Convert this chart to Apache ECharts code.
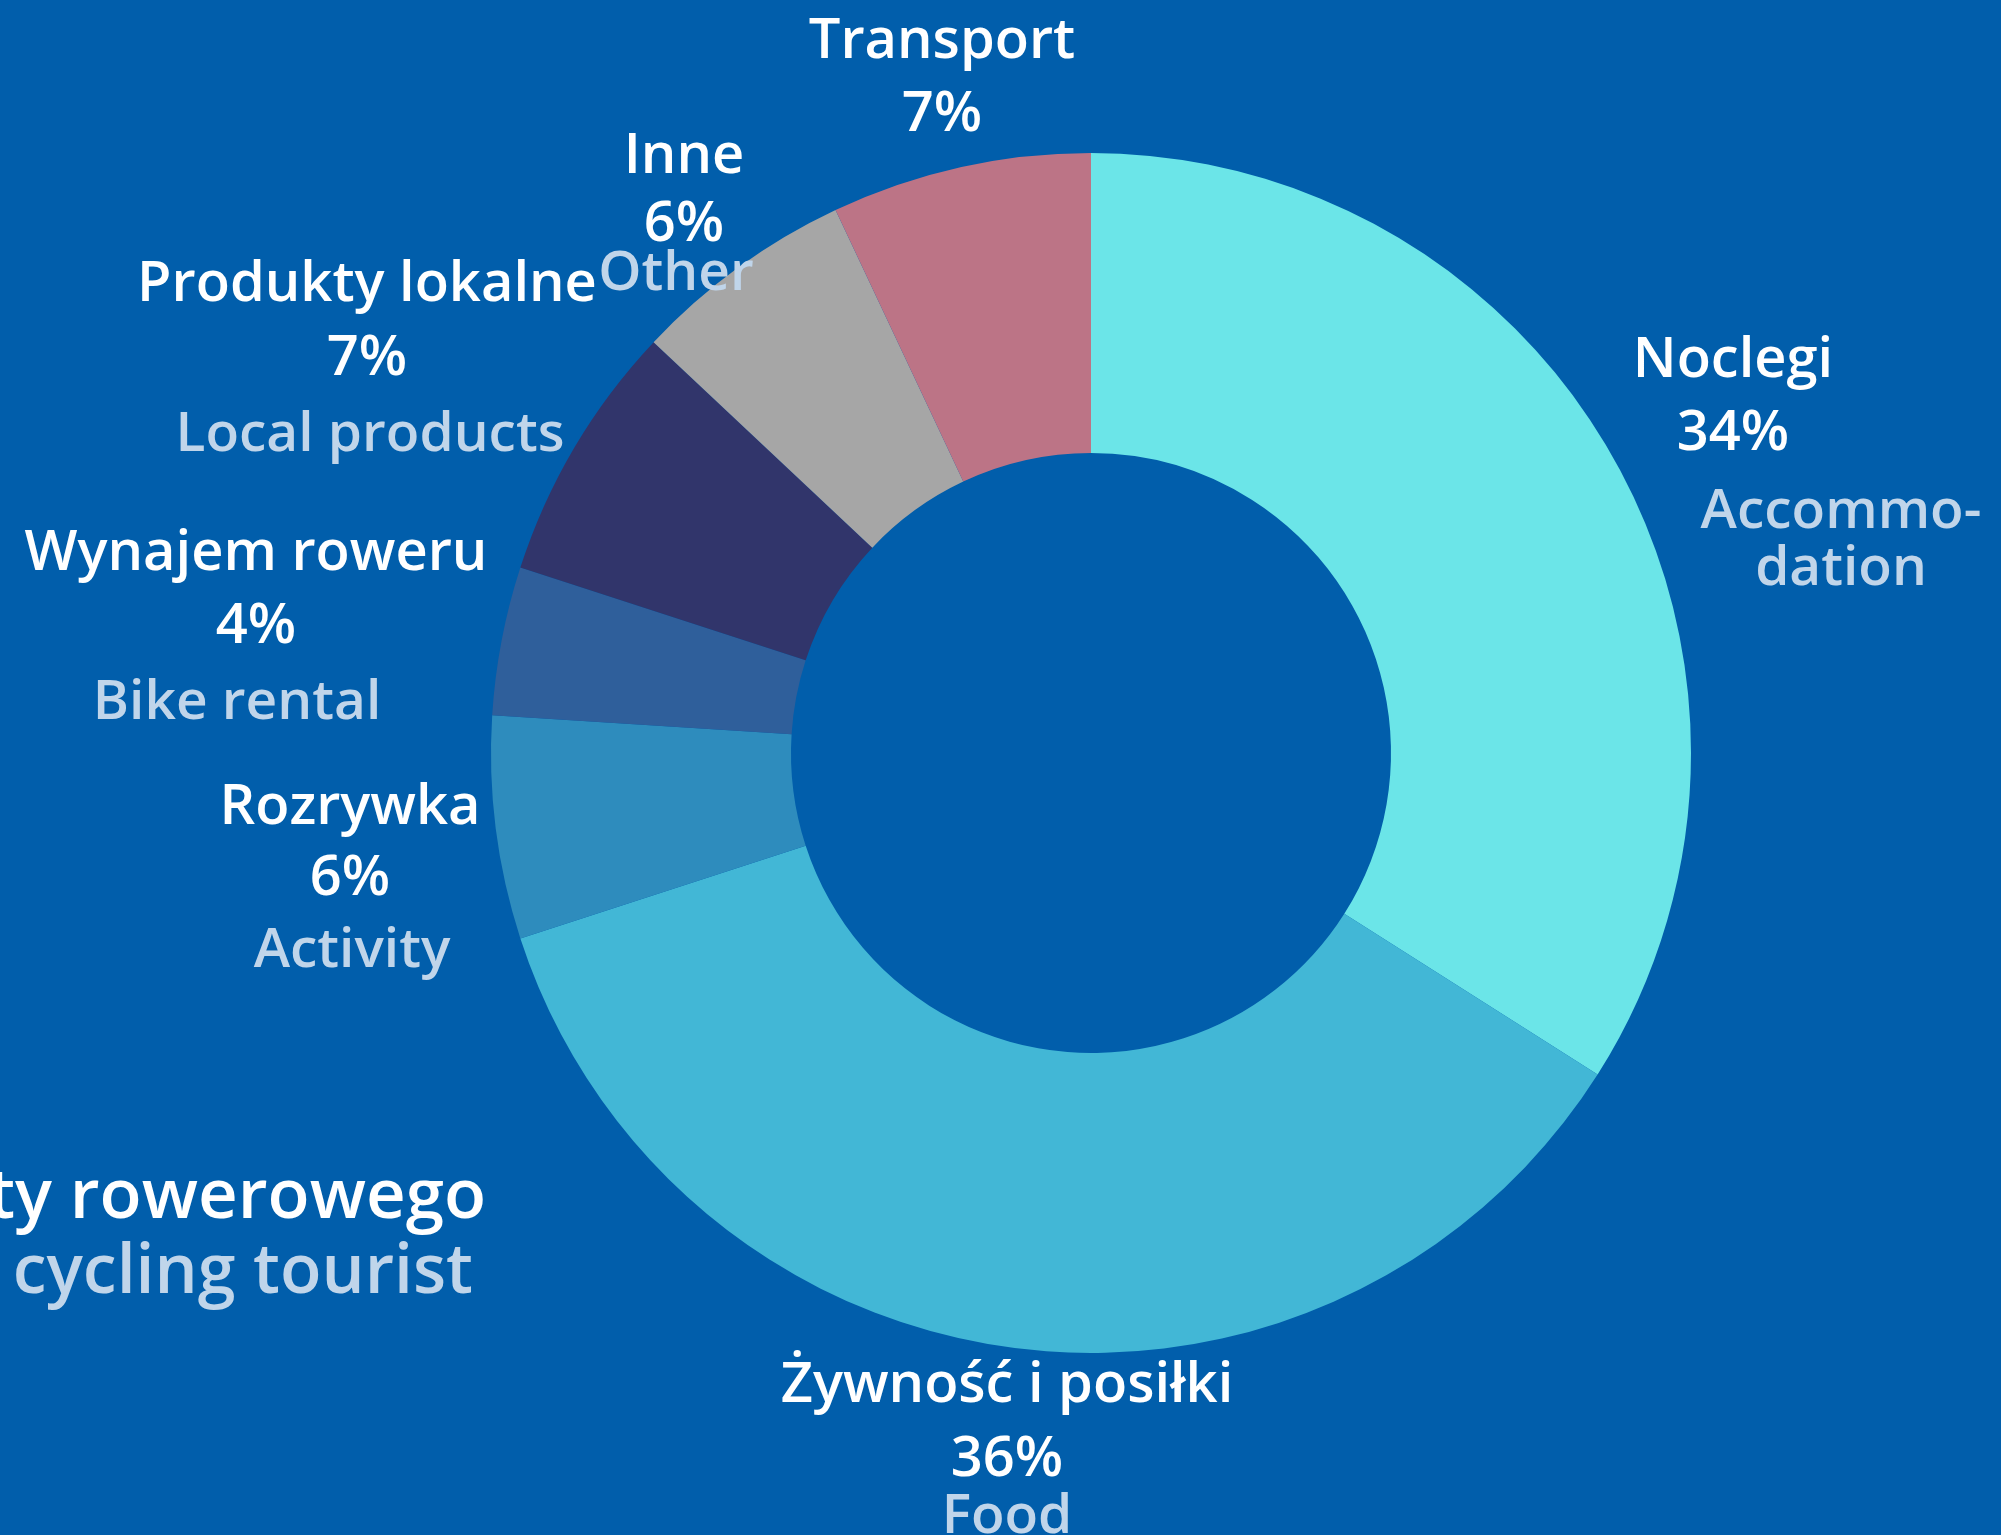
<!DOCTYPE html>
<html>
<head>
<meta charset="utf-8">
<script src="https://cdn.jsdelivr.net/npm/echarts@6/dist/echarts.min.js"></script>
<style>
  html, body { margin: 0; padding: 0; background: #015eab; }
  #chart { width: 2001px; height: 1535px; }
</style>
</head>
<body>
<div id="chart"></div>
<script>
// categories (Polish) and English subtitles
var categories = ['Noclegi', 'Żywność i posiłki', 'Rozrywka', 'Wynajem roweru', 'Produkty lokalne', 'Inne', 'Transport'];
var englishNames = [['Accommo-', 'dation'], ['Food'], ['Activity'], ['Bike rental'], ['Local products'], ['Other'], []];
var shares = [34, 36, 6, 4, 7, 6, 7];
var sliceColors = ['#6be5e8', '#42b7d6', '#2e8cbd', '#2f5f9b', '#31356b', '#a6a6a6', '#bc7486'];

var titleLines = ['Wydatki turysty rowerowego', 'Expenses of a cycling tourist'];

/* label placement: x, line centres, shift of the english line */
var labelSpots = [
    {x: 1733, lines: [357, 430, 508, 565], dx: 108},
    {x: 1007, lines: [1382, 1456, 1513], dx: 0},
    {x: 350, lines: [804, 875, 947], dx: 2},
    {x: 256, lines: [550, 623, 699], dx: -19},
    {x: 367, lines: [281, 355, 431], dx: 3},
    {x: 684, lines: [153, 221, 270], dx: -8},
    {x: 942, lines: [38, 111], dx: 0}
];
var Y_SHIFT = 4;

var WHITE = '#ffffff';
var LIGHT = '#c0d5ea';
var FONT = '"Open Sans", sans-serif';

function lineHeights(lines) {
    var h = [72];
    for (var i = 1; i < lines.length; i++) {
        h.push(2 * (lines[i] - lines[i - 1]) - h[i - 1]);
    }
    return h;
}

function buildLabel(i) {
    var spot = labelSpots[i];
    var h = lineHeights(spot.lines);
    var pad = spot.dx >= 0 ? [0, 0, 0, 2 * spot.dx] : [0, -2 * spot.dx, 0, 0];
    var rich = {
        n: {fontFamily: FONT, fontSize: 56, fontWeight: 600, color: WHITE, lineHeight: h[0]},
        p: {fontFamily: FONT, fontSize: 56, fontWeight: 600, color: WHITE, lineHeight: h[1]}
    };
    var parts = ['{n|' + categories[i] + '}', '{p|' + shares[i] + '%}'];
    englishNames[i].forEach(function (t, k) {
        var key = 'e' + k;
        rich[key] = {fontFamily: FONT, fontSize: 55, fontWeight: 600, color: LIGHT,
            lineHeight: h[2 + k], padding: pad};
        parts.push('{' + key + '|' + t + '}');
    });
    return {
        show: true,
        formatter: parts.join('\n'),
        rich: rich
    };
}

var pieData = categories.map(function (name, i) {
    return {
        name: name,
        value: shares[i],
        itemStyle: {color: sliceColors[i]},
        label: buildLabel(i)
    };
});

var myChart = echarts.init(document.getElementById('chart'), null, {renderer: 'canvas'});

var option = {
    backgroundColor: '#015eab',
    animation: false,
    series: [{
        type: 'pie',
        center: [1091, 753],
        radius: [300, 600],
        startAngle: 90,
        clockwise: true,
        avoidLabelOverlap: false,
        itemStyle: {borderWidth: 0},
        label: {position: 'outside'},
        labelLine: {show: false},
        labelLayout: function (params) {
            var spot = labelSpots[params.dataIndex];
            var h = lineHeights(spot.lines);
            return {
                x: spot.x,
                y: spot.lines[0] - h[0] / 2 + Y_SHIFT,
                align: 'center',
                verticalAlign: 'top'
            };
        },
        emphasis: {disabled: true},
        data: pieData
    }],
    graphic: [
        {
            type: 'text',
            x: 486,
            y: 1198,
            style: {
                text: titleLines[0],
                fill: WHITE,
                font: '600 69px ' + FONT,
                textAlign: 'right',
                textVerticalAlign: 'middle'
            }
        },
        {
            type: 'text',
            x: 473,
            y: 1274,
            style: {
                text: titleLines[1],
                fill: LIGHT,
                font: '600 68px ' + FONT,
                textAlign: 'right',
                textVerticalAlign: 'middle'
            }
        }
    ]
};

myChart.setOption(option);
</script>
</body>
</html>
